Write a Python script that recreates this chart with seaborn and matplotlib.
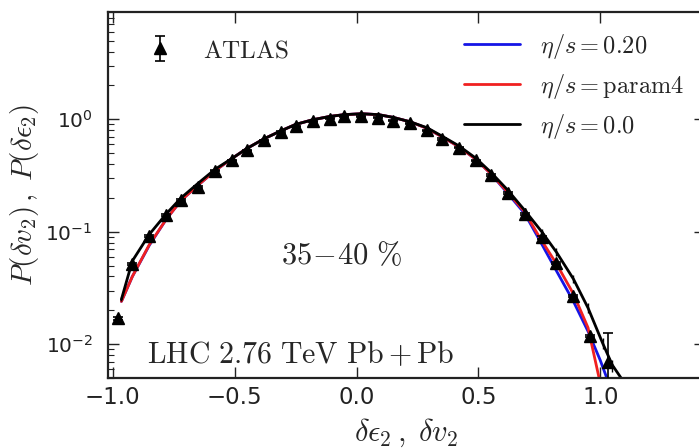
import numpy as np
import pandas as pd
import matplotlib
matplotlib.use("Agg")
import matplotlib.pyplot as plt
import seaborn as sns

# ATLAS event-by-event v2 distribution, 35-40 % centrality
atlas_x = [-0.98, -0.92, -0.85, -0.78, -0.72, -0.65, -0.58, -0.51, -0.45, -0.38,
           -0.31, -0.25, -0.18, -0.11, -0.05, 0.02, 0.09, 0.15, 0.22, 0.29,
           0.35, 0.42, 0.49, 0.55, 0.62, 0.69, 0.76, 0.82, 0.89, 0.96, 1.03]
atlas_y = [0.017, 0.052, 0.091, 0.14, 0.19, 0.25, 0.35, 0.43, 0.53, 0.65,
           0.77, 0.87, 0.96, 1.01, 1.06, 1.06, 1.03, 0.97, 0.92, 0.80,
           0.67, 0.56, 0.43, 0.32, 0.22, 0.145, 0.089, 0.053, 0.027, 0.0118, 0.0070]
atlas_err = [0.0005, 0.001, 0.002, 0.003, 0.004, 0.005, 0.006, 0.007, 0.008, 0.01,
             0.01, 0.01, 0.01, 0.01, 0.01, 0.01, 0.01, 0.01, 0.01, 0.01,
             0.01, 0.008, 0.006, 0.005, 0.004, 0.003, 0.002, 0.0012, 0.0006, 0.0003, 0.0056]

# hydro model curves
model_x = [-0.965, -0.92, -0.85, -0.78, -0.72, -0.65, -0.58, -0.51, -0.45, -0.38,
           -0.31, -0.25, -0.18, -0.11, -0.05, 0.02, 0.09, 0.15, 0.22, 0.29,
           0.35, 0.42, 0.49, 0.55, 0.62, 0.69, 0.75, 0.82, 0.89, 0.95, 1.00, 1.04]
visc_020 = [0.024, 0.040, 0.076, 0.13, 0.19, 0.26, 0.35, 0.45, 0.55, 0.67,
            0.79, 0.90, 0.99, 1.06, 1.10, 1.12, 1.10, 1.04, 0.95, 0.83,
            0.70, 0.57, 0.44, 0.33, 0.22, 0.145, 0.085, 0.045, 0.024, 0.013, 0.0072, 0.0042]
visc_param4 = [0.024, 0.040, 0.077, 0.13, 0.19, 0.26, 0.35, 0.45, 0.55, 0.67,
               0.79, 0.90, 0.99, 1.06, 1.10, 1.12, 1.10, 1.04, 0.95, 0.83,
               0.70, 0.57, 0.44, 0.33, 0.225, 0.15, 0.090, 0.052, 0.028, 0.014, 0.0045, 0.002]

ideal_x = [-0.965, -0.92, -0.85, -0.78, -0.72, -0.65, -0.58, -0.51, -0.45, -0.38,
           -0.31, -0.25, -0.18, -0.11, -0.05, 0.02, 0.09, 0.15, 0.22, 0.29,
           0.35, 0.42, 0.49, 0.55, 0.62, 0.69, 0.76, 0.82, 0.89, 0.95, 1.01, 1.05, 1.10]
ideal_y = [0.025, 0.055, 0.095, 0.145, 0.20, 0.27, 0.36, 0.45, 0.55, 0.67,
           0.79, 0.90, 0.99, 1.06, 1.10, 1.12, 1.10, 1.04, 0.95, 0.84,
           0.71, 0.58, 0.45, 0.34, 0.235, 0.155, 0.10, 0.066, 0.038, 0.021, 0.0102, 0.0065, 0.0045]
ideal_err = [0.001, 0.0015, 0.002, 0.003, 0.004, 0.005, 0.006, 0.007, 0.008, 0.009,
             0.01, 0.01, 0.01, 0.01, 0.01, 0.01, 0.01, 0.01, 0.01, 0.01,
             0.01, 0.01, 0.01, 0.01, 0.008, 0.007, 0.006, 0.005, 0.003, 0.002, 0.0012, 0.0008, 0.0005]

labels = [r"$\eta/s=0.20$", r"$\eta/s=\mathrm{param4}$", r"$\eta/s=0.0$"]
x_ticks = [-1.0, -0.5, 0.0, 0.5, 1.0]

sns.set_style("ticks")
plt.rcParams["font.family"] = ["DejaVu Sans"]
plt.rcParams["mathtext.fontset"] = "cm"
plt.rcParams["axes.linewidth"] = 1.6
plt.rcParams["axes.edgecolor"] = "#222222"

fig = plt.figure(figsize=(6.99, 4.48), dpi=100)
ax = fig.add_axes([108 / 699, 1 - 378 / 448, 597 / 699, 366 / 448])

curves = pd.concat([
    pd.DataFrame({"x": model_x, "y": visc_020, "model": labels[0]}),
    pd.DataFrame({"x": model_x, "y": visc_param4, "model": labels[1]}),
    pd.DataFrame({"x": ideal_x, "y": ideal_y, "model": labels[2]}),
])
palette = {labels[0]: "#1515e6", labels[1]: "#f02020", labels[2]: "black"}
sns.lineplot(data=curves, x="x", y="y", hue="model", palette=palette,
             linewidth=2.0, sort=False, estimator=None, ax=ax, legend=False)
ax.errorbar(ideal_x, ideal_y, yerr=ideal_err, fmt="none", ecolor="black",
            elinewidth=1.0, capsize=0, zorder=3)

ax.errorbar(atlas_x, atlas_y, yerr=atlas_err, fmt="^", color="black",
            markersize=8, elinewidth=1.2, capsize=3.5, capthick=1.2, zorder=4,
            label=r"$\mathrm{ATLAS}$")

ax.set_yscale("log")
ax.set_xlim(-1.02, 1.43)
ax.set_ylim(5e-3, 9.0)
ax.set_xticks(x_ticks)
ax.set_xticklabels([f"{t:.1f}".replace("-", "\u2212") for t in x_ticks])

ax.tick_params(which="both", direction="in", top=True, right=True, colors="#222222")
ax.tick_params(which="major", length=8, width=1.0)
ax.tick_params(which="minor", length=4, width=0.8)
ax.tick_params(axis="x", pad=6, labelsize=16.5)
ax.tick_params(axis="y", pad=11, labelsize=14.5)
ax.xaxis.set_minor_locator(matplotlib.ticker.NullLocator())

ax.set_xlabel(r"$\delta\epsilon_2\,,\;\delta v_2$", fontsize=22, labelpad=5)
ax.set_ylabel(r"$P(\delta v_2)\,,\;P(\delta\epsilon_2)$", fontsize=21, labelpad=3)

ax.text(-0.06, 0.062, r"$35\!-\!40\ \%$", fontsize=22, ha="center", va="center")
ax.text(-0.86, 0.0068, r"$\mathrm{LHC\ 2.76\ TeV\ Pb+Pb}$", fontsize=21.5,
        ha="left", va="baseline")

h_atlas, l_atlas = ax.get_legend_handles_labels()
leg1 = ax.legend(h_atlas, l_atlas, loc="upper left", bbox_to_anchor=(0.025, 0.99),
                 frameon=False, fontsize=18, handlelength=1.2, handletextpad=1.1,
                 numpoints=1)
ax.add_artist(leg1)

line_handles = [matplotlib.lines.Line2D([], [], color=palette[l], lw=2.0) for l in labels]
ax.legend(line_handles, labels, loc="upper left", bbox_to_anchor=(0.56, 1.006),
          frameon=False, fontsize=17.5, handlelength=2.3, handletextpad=0.8,
          labelspacing=0.45)

fig.savefig("out.png", dpi=100)
